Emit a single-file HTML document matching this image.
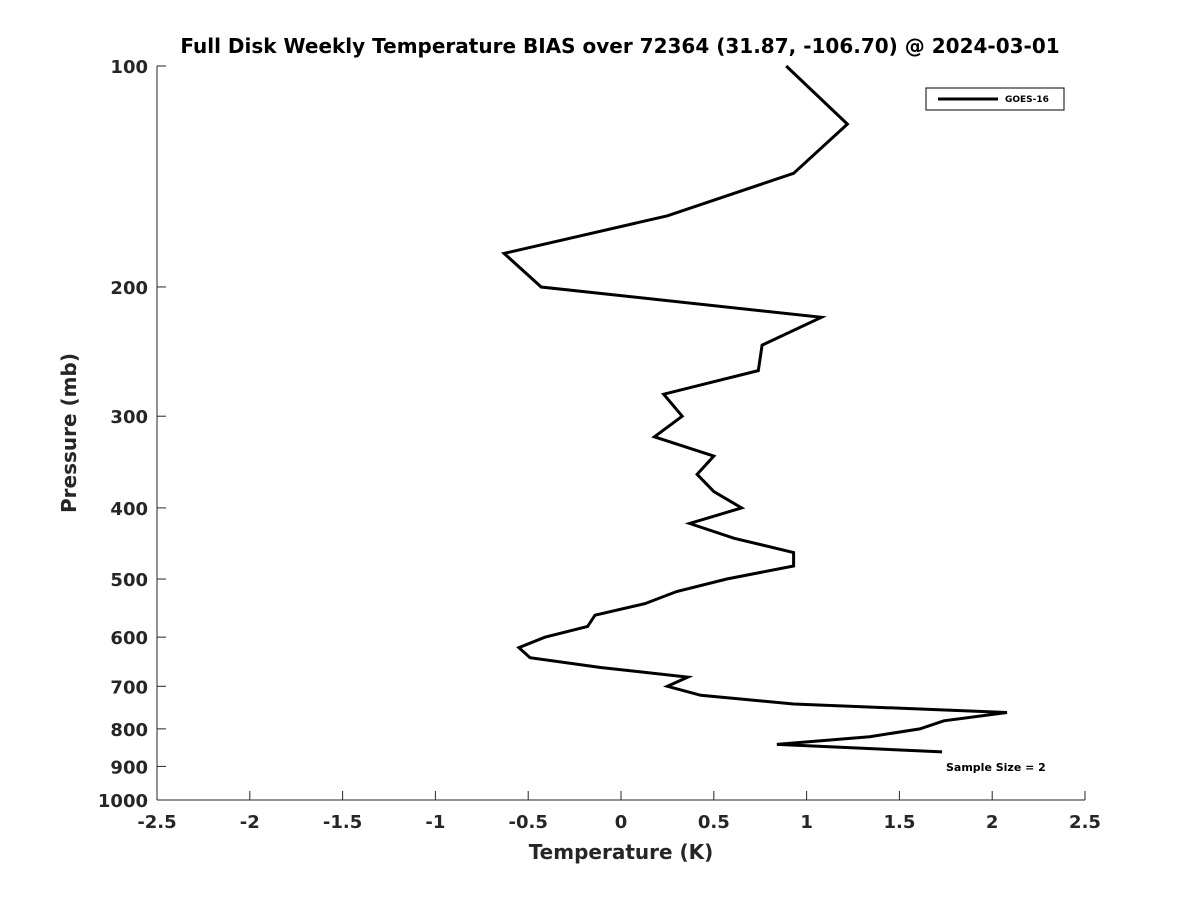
<!DOCTYPE html>
<html><head><meta charset="utf-8"><style>body{margin:0;background:#fff}svg{display:block;font-family:"DejaVu Sans","Liberation Sans",sans-serif}</style></head>
<body>
<svg id="chart" width="1200" height="900" viewBox="0 0 1200 900">
<rect width="1200" height="900" fill="#fff"/>
<text x="620" y="53" text-anchor="middle" font-size="20" font-weight="bold" fill="#000">Full Disk Weekly Temperature BIAS over 72364 (31.87, -106.70) @ 2024-03-01</text>
<g id="axes"></g>
<g id="marks"></g>
<g>
<rect x="926" y="88" width="138" height="22" fill="#fff" stroke="#000" stroke-width="1"/>
<line x1="938" y1="99" x2="998" y2="99" stroke="#000" stroke-width="3"/>
<text x="1005" y="102" font-size="9" font-weight="bold">GOES-16</text>
</g>
<text x="946" y="771" font-size="11" font-weight="bold">Sample Size = 2</text>
<text x="621" y="859" text-anchor="middle" font-size="20" font-weight="bold" fill="#262626">Temperature (K)</text>
<text transform="translate(76,433) rotate(-90)" text-anchor="middle" font-size="20" font-weight="bold" fill="#262626">Pressure (mb)</text>
</svg>
<script>
const temps=[0.89,1.22,0.93,0.25,-0.63,-0.43,1.08,0.76,0.74,0.23,0.33,0.18,0.50,0.41,0.50,0.65,0.37,0.61,0.93,0.93,0.57,0.30,0.13,-0.14,-0.18,-0.41,-0.55,-0.49,-0.11,0.36,0.25,0.43,0.93,2.08,1.74,1.61,1.34,0.84,1.73];
const pressures=[100,120,140,160,180,200,220,240,260,280,300,320,340,360,380,400,420,440,460,480,500,520,540,560,580,600,620,640,660,680,700,720,740,760,780,800,820,840,860];
const xTicks=[-2.5,-2,-1.5,-1,-0.5,0,0.5,1,1.5,2,2.5];
const yTicks=[100,200,300,400,500,600,700,800,900,1000];
const X0=157,X1=1085,Y0=66,Y1=800;
function xs(v){return X0+(v+2.5)/5*(X1-X0);}
function ys(p){return Y0+(Math.log10(p)-2)*(Y1-Y0);}
const NS="http://www.w3.org/2000/svg";
const ax=document.getElementById('axes'),mk=document.getElementById('marks');
function el(t,a,parent){const e=document.createElementNS(NS,t);for(const k in a)e.setAttribute(k,a[k]);parent.appendChild(e);return e;}
let l=el('line',{x1:X0,y1:Y1,x2:X1,y2:Y1,stroke:'#262626','stroke-width':1},ax);


l=el('line',{x1:X0,y1:Y0,x2:X0,y2:Y1,stroke:'#262626','stroke-width':1},ax);


xTicks.forEach(v=>{const x=xs(v);
el('line',{x1:x,y1:Y1,x2:x,y2:Y1-9,stroke:'#262626'},ax);
const t=el('text',{x:x,y:Y1+28,'text-anchor':'middle','font-size':18,'font-weight':'bold',fill:'#262626'},ax);
t.textContent=String(v);

});
yTicks.forEach(p=>{const y=ys(p);
el('line',{x1:X0,y1:y,x2:X0+9,y2:y,stroke:'#262626'},ax);
const t=el('text',{x:X0-9,y:y+7,'text-anchor':'end','font-size':18,'font-weight':'bold',fill:'#262626'},ax);
t.textContent=String(p);

});
const pts=temps.map((t,i)=>xs(t).toFixed(1)+','+ys(pressures[i]).toFixed(1)).join(' ');
const pl=el('polyline',{points:pts,fill:'none',stroke:'#000','stroke-width':3,'stroke-linejoin':'miter'},mk);


</script>
</body></html>
